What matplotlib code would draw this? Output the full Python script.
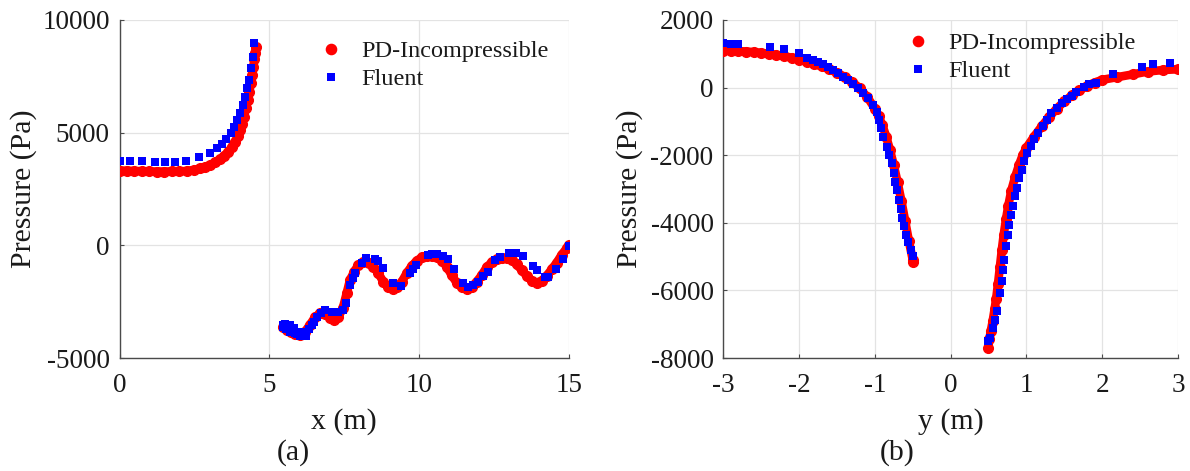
import matplotlib
matplotlib.use("Agg")
import matplotlib.pyplot as plt

plt.rcParams['font.family'] = ['Liberation Serif', 'DejaVu Serif']
plt.rcParams['axes.unicode_minus'] = False

# ---------------- (a) pressure along x ----------------
# PD-Incompressible, upstream segment
pd_a1_x = [0.0, 0.25, 0.5, 0.75, 1.0, 1.25, 1.5, 1.75, 2.0, 2.25, 2.5, 2.69, 2.85,
           3.02, 3.2, 3.35, 3.5, 3.63, 3.75, 3.85, 3.95, 4.02, 4.09, 4.15, 4.22,
           4.28, 4.33, 4.38, 4.43, 4.47, 4.5, 4.52, 4.55]
pd_a1_p = [3320, 3310, 3300, 3290, 3280, 3275, 3275, 3280, 3285, 3300, 3350, 3418, 3480,
           3565, 3680, 3818, 3980, 4155, 4370, 4599, 4850, 5118, 5400, 5709, 6080,
           6450, 6800, 7191, 7560, 7927, 8250, 8522, 8815]
# PD-Incompressible, downstream segment
pd_a2_x = [5.45, 5.58, 5.72, 5.86, 6.02, 6.19, 6.35, 6.52, 6.69, 6.86, 7.03, 7.16, 7.30,
           7.45, 7.58, 7.69, 7.83, 7.97, 8.14, 8.31, 8.47, 8.64, 8.80, 8.97, 9.12,
           9.25, 9.42, 9.58, 9.75, 9.92, 10.09, 10.25, 10.42, 10.58, 10.75, 10.92,
           11.08, 11.25, 11.42, 11.58, 11.75, 11.92, 12.09, 12.25, 12.42, 12.59,
           12.75, 12.92, 13.09, 13.25, 13.42, 13.59, 13.75, 13.92, 14.09, 14.25,
           14.42, 14.59, 14.75, 14.92, 15.0]
pd_a2_p = [-3639, -3757, -3860, -3934, -3979, -3831, -3535, -3195, -3017, -3047, -3240,
           -3314, -3195, -2795, -2130, -1539, -1169, -873, -725, -769, -947, -1243,
           -1612, -1864, -1953, -1864, -1612, -1243, -917, -681, -533, -474, -474,
           -533, -681, -947, -1317, -1657, -1864, -1923, -1834, -1612, -1317, -977,
           -755, -607, -548, -562, -651, -844, -1095, -1361, -1568, -1657, -1568,
           -1361, -1065, -769, -429, -133, 15]

# Fluent, upstream segment
fl_a1_x = [0.02, 0.35, 0.74, 1.18, 1.52, 1.85, 2.22, 2.66, 3.02, 3.24, 3.41, 3.57,
           3.72, 3.83, 3.93, 4.02, 4.11, 4.19, 4.27, 4.33, 4.39, 4.44, 4.49]
fl_a1_p = [3757, 3757, 3742, 3713, 3713, 3683, 3742, 3935, 4083, 4305, 4497, 4704,
           4970, 5266, 5562, 5858, 6228, 6598, 6968, 7337, 7855, 8373, 8964]
# Fluent, downstream segment
fl_a2_x = [5.45, 5.47, 5.53, 5.57, 5.60, 5.68, 5.70, 5.74, 5.83, 5.86, 5.91, 5.97,
           6.02, 6.08, 6.15, 6.21, 6.24, 6.32, 6.41, 6.49, 6.58, 6.71, 6.86, 7.08,
           7.28, 7.45, 7.55, 7.69, 7.78, 7.86, 8.08, 8.21, 8.52, 8.64, 8.80, 9.12,
           9.38, 9.69, 9.80, 9.89, 10.28, 10.44, 10.60, 10.81, 10.97, 11.17, 11.47,
           11.64, 11.81, 11.97, 12.14, 12.31, 12.53, 12.70, 13.01, 13.14, 13.23,
           13.45, 13.81, 13.92, 14.20, 14.31, 14.57, 14.79, 15.0]
fl_a2_p = [-3639, -3535, -3491, -3727, -3610, -3535, -3831, -3757, -3683, -3905,
           -3934, -3831, -4023, -3979, -3979, -4023, -3831, -3727, -3535, -3387,
           -3195, -2988, -2870, -2973, -2973, -2870, -2544, -1760, -1465, -1243,
           -799, -577, -622, -681, -1021, -1686, -1790, -1243, -1065, -873, -429,
           -385, -385, -474, -622, -1050, -1657, -1834, -1760, -1642, -1361, -1169,
           -651, -503, -355, -326, -355, -474, -903, -1095, -1391, -1391, -1065,
           -622, -30]

# ---------------- (b) pressure along y ----------------
pd_b1_y = [-3.0, -2.9, -2.8, -2.7, -2.6, -2.5, -2.4, -2.3, -2.2, -2.1, -2.0, -1.9,
           -1.8, -1.7, -1.6, -1.5, -1.4, -1.3, -1.2, -1.1, -1.0, -0.95, -0.9, -0.85,
           -0.8, -0.75, -0.7, -0.65, -0.6, -0.55, -0.5, -0.494]
pd_b1_p = [1093, 1090, 1080, 1068, 1050, 1028, 1000, 968, 930, 885, 830, 770,
           700, 625, 540, 440, 320, 170, -20, -280, -620, -850, -1120, -1450,
           -1850, -2300, -2800, -3350, -3950, -4550, -5100, -5170]
pd_b2_y = [0.496, 0.51, 0.53, 0.555, 0.58, 0.6, 0.625, 0.65, 0.675, 0.7, 0.73, 0.76,
           0.8, 0.85, 0.9, 0.95, 1.0, 1.1, 1.2, 1.3, 1.4, 1.5, 1.6, 1.7, 1.8, 1.9,
           2.0, 2.2, 2.4, 2.6, 2.8, 3.0]
pd_b2_p = [-7699, -7450, -7200, -6900, -6550, -6250, -5800, -5300, -4800, -4350,
           -3900, -3500, -3050, -2650, -2300, -2000, -1780, -1450, -1150, -870,
           -620, -410, -230, -80, 50, 150, 230, 310, 390, 475, 520, 543]

fl_b1_y = [-3.0, -2.9, -2.8, -2.39, -2.2, -2.0, -1.89, -1.82, -1.755, -1.69, -1.62,
           -1.557, -1.49, -1.425, -1.36, -1.29, -1.227, -1.16, -1.095, -1.03, -0.976,
           -0.95, -0.92, -0.89, -0.845, -0.81, -0.78, -0.748, -0.73, -0.712, -0.682,
           -0.66, -0.638, -0.616, -0.59, -0.56, -0.528, -0.501]
fl_b1_p = [1330, 1290, 1290, 1211, 1152, 1034, 868, 818, 769, 690, 621,
           522, 424, 325, 227, 109, -18, -165, -313, -511, -709,
           -954, -1200, -1447, -1743, -1988, -2234, -2530, -2780, -3023, -3318,
           -3594, -3860, -4106, -4352, -4580, -4795, -4993]
fl_b2_y = [0.496, 0.518, 0.553, 0.584, 0.614, 0.65, 0.672, 0.694, 0.707, 0.73, 0.752,
           0.773, 0.796, 0.818, 0.848, 0.87, 0.905, 0.937, 0.97, 1.01, 1.055, 1.1,
           1.156, 1.22, 1.27, 1.33, 1.4, 1.465, 1.53, 1.6, 1.66, 1.76, 1.83, 1.917,
           2.145, 2.52, 2.673, 2.893]
fl_b2_p = [-7503, -7404, -7108, -6862, -6616, -6074, -5729, -5385, -5090, -4676, -4352,
           -4056, -3761, -3515, -3220, -2973, -2678, -2432, -2186, -1939, -1722, -1525,
           -1329, -1132, -954, -757, -609, -461, -343, -236, -118, 30, 100, 148,
           405, 621, 690, 739]

x_ticks_a = [0, 5, 10, 15]
y_ticks_a = [-5000, 0, 5000, 10000]
x_ticks_b = [-3, -2, -1, 0, 1, 2, 3]
y_ticks_b = [-8000, -6000, -4000, -2000, 0, 2000]

RED = '#ff0000'
BLUE = '#0000ff'
SPINE = '#4a4a4a'
TEXT = '#1a1a1a'
W, H = 1190, 471

fig = plt.figure(figsize=(W / 100, H / 100), dpi=100)
ax_a = fig.add_axes([119.5 / W, (H - 358) / H, 449.5 / W, 338 / H])
ax_b = fig.add_axes([723.3 / W, (H - 358) / H, 454.7 / W, 338 / H])


def draw_pd(ax, xs, ps, label):
    ax.plot(xs, ps, '-', color=RED, lw=6.2, solid_capstyle='round', zorder=3,
            label='_nolegend_')
    ax.plot(xs, ps, 'o', color=RED, ms=7.0, mec=RED, zorder=3, label=label)


def draw_fl(ax, xs, ps, label):
    ax.plot(xs, ps, 's', color=BLUE, ms=5.8, mec=BLUE, mew=0.0, ls='none',
            zorder=4, label=label)


draw_pd(ax_a, pd_a1_x, pd_a1_p, 'PD-Incompressible')
draw_pd(ax_a, pd_a2_x, pd_a2_p, None)
draw_fl(ax_a, fl_a1_x, fl_a1_p, 'Fluent')
draw_fl(ax_a, fl_a2_x, fl_a2_p, None)

draw_pd(ax_b, pd_b1_y, pd_b1_p, 'PD-Incompressible')
draw_pd(ax_b, pd_b2_y, pd_b2_p, None)
draw_fl(ax_b, fl_b1_y, fl_b1_p, 'Fluent')
draw_fl(ax_b, fl_b2_y, fl_b2_p, None)


def style(ax, xlim, ylim, xt, yt, xlabel, ylab_x, leg_x, leg_y):
    ax.set_xlim(*xlim)
    ax.set_ylim(*ylim)
    ax.set_xticks(xt)
    ax.set_yticks(yt)
    ax.grid(True, color='#e3e3e3', lw=0.9, zorder=0)
    ax.set_axisbelow(True)
    for s in ['top', 'right']:
        ax.spines[s].set_visible(False)
    for s in ['left', 'bottom']:
        ax.spines[s].set_color(SPINE)
        ax.spines[s].set_linewidth(1.0)
    ax.tick_params(direction='in', length=3, width=0.8, color=SPINE,
                   labelsize=19.5, labelcolor=TEXT)
    ax.tick_params(axis='x', pad=11)
    ax.tick_params(axis='y', pad=7)
    ax.set_xlabel(xlabel, fontsize=21.5, color=TEXT, va='center')
    ax.xaxis.set_label_coords(0.5, (358 - 422) / 338)
    ax.set_ylabel('Pressure (Pa)', fontsize=21.5, color=TEXT, va='center')
    ax.yaxis.set_label_coords(ylab_x, 0.5)
    leg = ax.legend(loc='upper left', bbox_to_anchor=(leg_x, leg_y), frameon=False,
                    fontsize=17.5, handlelength=1.0, handletextpad=0.75,
                    borderpad=0.0, borderaxespad=0.0, labelspacing=0.25,
                    markerscale=1.05)
    for t in leg.get_texts():
        t.set_color(TEXT)


style(ax_a, (0, 15), (-5000, 10000), x_ticks_a, y_ticks_a, 'x (m)',
      (24 - 119.5) / 449.5, (331 - 12.2 - 119.5) / 449.5, 1 - (40 - 20) / 338)
style(ax_b, (-3, 3), (-8000, 2000), x_ticks_b, y_ticks_b, 'y (m)',
      (629.5 - 723.3) / 454.7, (917.7 - 12.2 - 723.3) / 454.7, 1 - (32 - 20) / 338)

fig.text(293 / W, 1 - 453 / H, '(a)', fontsize=21.5, ha='center', va='center',
         color=TEXT)
fig.text(897 / W, 1 - 453 / H, '(b)', fontsize=21.5, ha='center', va='center',
         color=TEXT)

fig.savefig('out.png', dpi=100)
